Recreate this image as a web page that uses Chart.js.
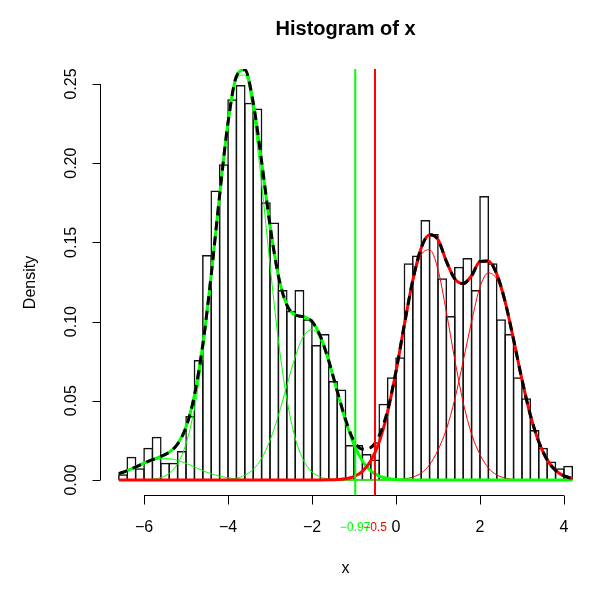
<!DOCTYPE html>
<html>
<head>
<meta charset="utf-8">
<title>Histogram of x</title>
<script src="https://cdn.jsdelivr.net/npm/chart.js@4/dist/chart.umd.min.js"></script>
<style>
    html, body { margin: 0; padding: 0; background: #fff; }
    canvas { display: block; }
</style>
</head>
<body>
<canvas id="histChart" width="600" height="589"></canvas>
<script>
// histogram: bin midpoints (bin width 0.2) and densities
const binMids = [-6.5, -6.3, -6.1, -5.9, -5.7, -5.5, -5.3, -5.1, -4.9, -4.7,
    -4.5, -4.3, -4.1, -3.9, -3.7, -3.5, -3.3, -3.1, -2.9, -2.7,
    -2.5, -2.3, -2.1, -1.9, -1.7, -1.5, -1.3, -1.1, -0.9, -0.7,
    -0.5, -0.3, -0.1, 0.1, 0.3, 0.5, 0.7, 0.9, 1.1, 1.3,
    1.5, 1.7, 1.9, 2.1, 2.3, 2.5, 2.7, 2.9, 3.1, 3.3,
    3.5, 3.7, 3.9, 4.1];
const binDensity = [0.0036, 0.0147, 0.0074, 0.0204, 0.0273, 0.0109, 0.0109, 0.0183, 0.0404, 0.0758,
    0.1420, 0.1827, 0.1993, 0.2403, 0.2494, 0.2382, 0.2346, 0.1753, 0.1625, 0.1199,
    0.1069, 0.1199, 0.1014, 0.0852, 0.0922, 0.0625, 0.0572, 0.0221, 0.0221, 0.0164,
    0.0130, 0.0481, 0.0648, 0.0775, 0.1368, 0.1418, 0.1641, 0.1553, 0.1273, 0.1035,
    0.1347, 0.1402, 0.1199, 0.1793, 0.1368, 0.1014, 0.0922, 0.0648, 0.0516, 0.0316,
    0.0204, 0.0116, 0.0074, 0.0090];

const curveX = [-6.6, -6.4, -6.2, -6.0, -5.8, -5.6, -5.4, -5.2, -5.0, -4.8,
    -4.6, -4.4, -4.2, -4.0, -3.8, -3.6, -3.4, -3.2, -3.0, -2.8,
    -2.6, -2.4, -2.2, -2.0, -1.8, -1.6, -1.4, -1.2, -1.0, -0.8,
    -0.6, -0.4, -0.2, 0.0, 0.2, 0.4, 0.6, 0.8, 1.0, 1.2,
    1.4, 1.6, 1.8, 2.0, 2.2, 2.4, 2.6, 2.8, 3.0, 3.2,
    3.4, 3.6, 3.8, 4.0, 4.2];
const totalDensity = [0.0039, 0.0059, 0.0082, 0.0106, 0.0128, 0.0149, 0.0176, 0.0227, 0.0334, 0.0534,
    0.0855, 0.1295, 0.1797, 0.2256, 0.2548, 0.2590, 0.2382, 0.2010, 0.1608, 0.1288,
    0.1106, 0.1042, 0.1031, 0.1000, 0.0907, 0.0751, 0.0562, 0.0381, 0.0246, 0.0195,
    0.0205, 0.0280, 0.0439, 0.0687, 0.0982, 0.1261, 0.1465, 0.1549, 0.1518, 0.1380,
    0.1270, 0.1240, 0.1290, 0.1379, 0.1383, 0.1300, 0.1125, 0.0886, 0.0634, 0.0410,
    0.0241, 0.0127, 0.0061, 0.0026, 0.0010];
const leftMix = [0.0039, 0.0059, 0.0082, 0.0106, 0.0128, 0.0149, 0.0176, 0.0227, 0.0334, 0.0534,
    0.0855, 0.1295, 0.1797, 0.2256, 0.2548, 0.2590, 0.2382, 0.2010, 0.1608, 0.1288,
    0.1106, 0.1042, 0.1031, 0.1000, 0.0907, 0.0750, 0.0559, 0.0373, 0.0224, 0.0120,
    0.0058, 0.0025, 0.0010, 0.0003, 0.0001, 0, 0, 0, 0, 0,
    0, 0, 0, 0, 0, 0, 0, 0, 0, 0,
    0, 0, 0, 0, 0];
const rightMix = [0, 0, 0, 0, 0, 0, 0, 0, 0, 0,
    0, 0, 0, 0, 0, 0, 0, 0, 0, 0,
    0, 0, 0, 0, 0, 0.0001, 0.0003, 0.0008, 0.0022, 0.0054,
    0.0121, 0.0240, 0.0429, 0.0684, 0.0981, 0.1261, 0.1465, 0.1549, 0.1518, 0.1380,
    0.1270, 0.1240, 0.1290, 0.1379, 0.1383, 0.1300, 0.1125, 0.0886, 0.0634, 0.0410,
    0.0241, 0.0127, 0.0061, 0.0026, 0.0010];
// single components
const leftComp1 = [0.0039, 0.0059, 0.0082, 0.0105, 0.0123, 0.0134, 0.0134, 0.0123, 0.0105, 0.0082,
    0.0059, 0.0039, 0.0024, 0.0014, 0.0007, 0.0003, 0.0001, 0, 0, 0,
    0, 0, 0, 0, 0, 0, 0, 0, 0, 0,
    0, 0, 0, 0, 0, 0, 0, 0, 0, 0,
    0, 0, 0, 0, 0, 0, 0, 0, 0, 0,
    0, 0, 0, 0, 0];
const leftComp2 = [0, 0, 0, 0.0001, 0.0005, 0.0015, 0.0042, 0.0104, 0.0229, 0.0452,
    0.0796, 0.1256, 0.1772, 0.2238, 0.2529, 0.2557, 0.2314, 0.1873, 0.1358, 0.0880,
    0.0511, 0.0265, 0.0123, 0.0051, 0.0019, 0.0006, 0.0002, 0, 0, 0,
    0, 0, 0, 0, 0, 0, 0, 0, 0, 0,
    0, 0, 0, 0, 0, 0, 0, 0, 0, 0,
    0, 0, 0, 0, 0];
const leftComp3 = [0, 0, 0, 0, 0, 0, 0, 0, 0, 0,
    0, 0, 0.0001, 0.0004, 0.0012, 0.0030, 0.0067, 0.0137, 0.0250, 0.0408,
    0.0595, 0.0777, 0.0908, 0.0949, 0.0888, 0.0744, 0.0557, 0.0373, 0.0224, 0.0120,
    0.0058, 0.0025, 0.0010, 0.0003, 0.0001, 0, 0, 0, 0, 0,
    0, 0, 0, 0, 0, 0, 0, 0, 0, 0,
    0, 0, 0, 0, 0];
const rightComp1 = [0, 0, 0, 0, 0, 0, 0, 0, 0, 0,
    0, 0, 0, 0, 0, 0, 0, 0, 0, 0,
    0, 0, 0, 0, 0, 0.0001, 0.0003, 0.0008, 0.0022, 0.0054,
    0.0121, 0.0240, 0.0428, 0.0682, 0.0974, 0.1243, 0.1421, 0.1453, 0.1329, 0.1060,
    0.0760, 0.0490, 0.0290, 0.0161, 0.0076, 0.0032, 0.0012, 0.0004, 0.0001, 0,
    0, 0, 0, 0, 0];
const rightComp2 = [0, 0, 0, 0, 0, 0, 0, 0, 0, 0,
    0, 0, 0, 0, 0, 0, 0, 0, 0, 0,
    0, 0, 0, 0, 0, 0, 0, 0, 0, 0,
    0, 0, 0.0001, 0.0002, 0.0007, 0.0018, 0.0044, 0.0096, 0.0189, 0.0320,
    0.0510, 0.0750, 0.1000, 0.1218, 0.1307, 0.1268, 0.1113, 0.0882, 0.0633, 0.0410,
    0.0241, 0.0127, 0.0061, 0.0026, 0.0010];

// cut points and axis ticks
const cutGreen = -0.97;
const cutRed = -0.5;
const xTicks = [-6, -4, -2, 0, 2, 4];
const yTicks = [0, 0.05, 0.10, 0.15, 0.20, 0.25];
const yTickLabels = ["0.00", "0.05", "0.10", "0.15", "0.20", "0.25"];

const FONT = '"Liberation Sans", Arial, Helvetica, sans-serif';

function pts(ys) {
    return curveX.map((x, i) => ({ x: x, y: ys[i] }));
}

function curve(ys, color, width, order, dash) {
    return {
        type: "line",
        data: pts(ys),
        borderColor: color,
        borderWidth: width,
        borderDash: dash || [],
        pointRadius: 0,
        fill: false,
        cubicInterpolationMode: "monotone",
        order: order
    };
}

function vline(x, color) {
    return {
        type: "line",
        data: [{ x: x, y: -1 }, { x: x, y: 1 }],
        borderColor: color,
        borderWidth: 2,
        pointRadius: 0,
        fill: false,
        order: 1
    };
}

// R style axes, titles and the cut labels
const rAxes = {
    id: "rAxes",
    afterDraw(chart) {
        const { ctx, chartArea, scales } = chart;
        const xs = scales.x, ys = scales.y;
        ctx.save();
        ctx.strokeStyle = "#000";
        ctx.fillStyle = "#000";
        ctx.lineWidth = 1;

        // x axis
        const ay = Math.round(chartArea.bottom) - 0.5;
        ctx.beginPath();
        ctx.moveTo(xs.getPixelForValue(xTicks[0]), ay);
        ctx.lineTo(xs.getPixelForValue(xTicks[xTicks.length - 1]), ay);
        xTicks.forEach(t => {
            const px = Math.round(xs.getPixelForValue(t)) + 0.5;
            ctx.moveTo(px, ay);
            ctx.lineTo(px, ay + 9);
        });
        ctx.stroke();
        ctx.font = "16px " + FONT;
        ctx.textAlign = "center";
        ctx.textBaseline = "middle";
        xTicks.forEach(t => {
            const lab = t < 0 ? "\u2212" + Math.abs(t) : String(t);
            ctx.fillText(lab, xs.getPixelForValue(t), 528);
        });

        // y axis
        const ax = Math.round(chartArea.left) - 0.5;
        ctx.beginPath();
        ctx.moveTo(ax, ys.getPixelForValue(yTicks[0]));
        ctx.lineTo(ax, ys.getPixelForValue(yTicks[yTicks.length - 1]));
        yTicks.forEach(t => {
            const py = Math.round(ys.getPixelForValue(t)) + 0.5;
            ctx.moveTo(ax, py);
            ctx.lineTo(ax - 8, py);
        });
        ctx.stroke();
        yTicks.forEach((t, i) => {
            ctx.save();
            ctx.translate(72, ys.getPixelForValue(t));
            ctx.rotate(-Math.PI / 2);
            ctx.fillText(yTickLabels[i], 0, 0);
            ctx.restore();
        });

        // cut labels under the axis
        ctx.font = "12px " + FONT;
        ctx.fillStyle = "#00ff00";
        ctx.fillText("\u22120.97", xs.getPixelForValue(cutGreen), 528);
        ctx.fillStyle = "#ff0000";
        ctx.fillText("\u22120.5", xs.getPixelForValue(cutRed), 528);

        // titles
        ctx.fillStyle = "#000";
        const cx = (chartArea.left + chartArea.right) / 2;
        ctx.font = "bold 20px " + FONT;
        ctx.fillText("Histogram of x", cx, 29);
        ctx.font = "16px " + FONT;
        ctx.fillText("x", cx, 569);
        ctx.save();
        ctx.translate(31, (chartArea.top + chartArea.bottom) / 2);
        ctx.rotate(-Math.PI / 2);
        ctx.fillText("Density", 0, 0);
        ctx.restore();
        ctx.restore();
    }
};

document.addEventListener("DOMContentLoaded", () => {
    const ctx = document.getElementById("histChart").getContext("2d");
    new Chart(ctx, {
        type: "bar",
        data: {
            datasets: [
                {
                    type: "bar",
                    data: binMids.map((x, i) => ({ x: x, y: binDensity[i] })),
                    backgroundColor: "rgba(0,0,0,0)",
                    borderColor: "#111",
                    borderWidth: 1.5,
                    barPercentage: 1.18,
                    categoryPercentage: 1.0,
                    order: 10
                },
                curve(leftComp1, "#00ff00", 1, 6),
                curve(leftComp2, "#00ff00", 1, 6),
                curve(leftComp3, "#00ff00", 1, 6),
                curve(rightComp1, "#ff0000", 1, 6),
                curve(rightComp2, "#ff0000", 1, 6),
                curve(leftMix, "#00ff00", 3, 4),
                curve(rightMix, "#ff0000", 3, 3),
                curve(totalDensity, "#000000", 3, 2, [9, 6]),
                vline(cutGreen, "#00ff00"),
                vline(cutRed, "#ff0000")
            ]
        },
        options: {
            responsive: false,
            animation: false,
            devicePixelRatio: 1,
            events: [],
            layout: {
                padding: { left: 100.7, right: 9.5, top: 69.1, bottom: 93.2 }
            },
            scales: {
                x: { type: "linear", min: -7.032, max: 4.632, offset: false, display: false },
                y: { type: "linear", min: -0.00998, max: 0.2594, display: false }
            },
            plugins: {
                legend: { display: false },
                tooltip: { enabled: false },
                title: { display: false }
            }
        },
        plugins: [rAxes]
    });
});
</script>
</body>
</html>
